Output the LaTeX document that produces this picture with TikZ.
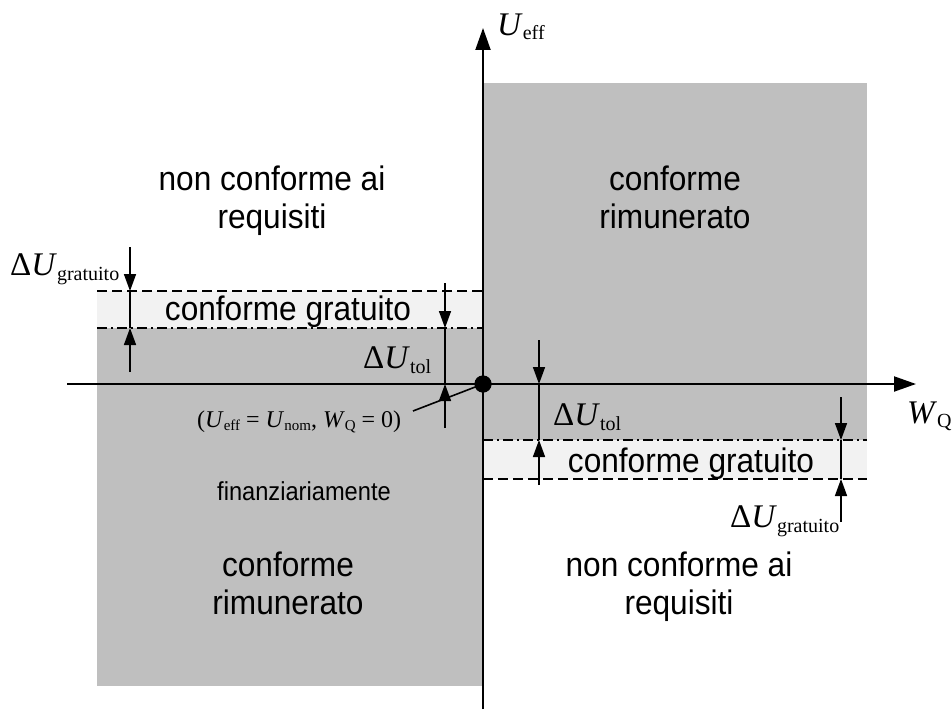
\documentclass[tikz,border=0pt]{standalone}
\usepackage{fontspec}
\usepackage{graphicx}
\setmainfont{Liberation Serif}
\setsansfont{Liberation Sans}
\usetikzlibrary{arrows.meta}
\definecolor{zonegray}{RGB}{191,191,191}
\definecolor{bandgray}{RGB}{242,242,242}
\newcommand\cond[1]{\scalebox{0.93}[1]{#1}}
\newcommand\subx[2]{\raisebox{-#2}{\fontsize{20}{20}\selectfont #1}}
\newcommand\DU[1]{Δ\textit{U}\subx{#1}{5pt}}
\newcommand\sbs[1]{\raisebox{-3.5pt}{\fontsize{15}{15}\selectfont #1}}
\begin{document}
\begin{tikzpicture}[x=1pt,y=-1pt,
  region/.style={font=\fontsize{34}{38}\selectfont\sffamily, align=center, inner sep=0, anchor=base},
  smalltext/.style={font=\fontsize{26}{27}\selectfont\sffamily, inner sep=0, anchor=base},
  mlabel/.style={font=\fontsize{33}{36}\selectfont\rmfamily, anchor=base west, inner sep=0},
  plabel/.style={font=\fontsize{24}{26}\selectfont\rmfamily, anchor=base west, inner sep=0},
  axisline/.style={line width=2pt, -{Triangle[length=22pt,width=15pt]}},
  dimarrow/.style={line width=1.6pt, -{Triangle[length=17pt,width=12pt]}},
  dimline/.style={line width=1.6pt},
  limdash/.style={line width=1.4pt, dash pattern=on 10pt off 5pt},
  limdashdot/.style={line width=1.4pt, dash pattern=on 10pt off 4pt on 2pt off 4pt},
  leader/.style={line width=1.6pt}
]
\useasboundingbox[fill=white] (0,0) rectangle (952,709);

% zones
\fill[zonegray] (483,83) rectangle (867,440);
\fill[bandgray] (483,440) rectangle (867,479);
\fill[zonegray] (97,328) rectangle (483,686);
\fill[bandgray] (97,291) rectangle (483,328);

% limit lines
\coordinate (Lda) at (97,291);  \coordinate (Ldb) at (483,291);
\coordinate (Lta) at (97,328);  \coordinate (Ltb) at (483,328);
\coordinate (Rta) at (483,440); \coordinate (Rtb) at (867,440);
\coordinate (Rda) at (483,479); \coordinate (Rdb) at (867,479);
\draw[limdash] (Lda) -- (Ldb);
\draw[limdashdot] (Lta) -- (Ltb);
\draw[limdashdot] (Rta) -- (Rtb);
\draw[limdash] (Rda) -- (Rdb);

% axes
\coordinate (xs) at (67,384);  \coordinate (xe) at (916,384);
\coordinate (ys) at (483,709); \coordinate (ye) at (483,28);
\draw[axisline] (xs) -- (xe);
\draw[axisline] (ys) -- (ye);

% left Delta U gratuito
\coordinate (g1a) at (130,247); \coordinate (g1b) at (130,291);
\coordinate (g1c) at (130,372); \coordinate (g1d) at (130,328);
\draw[dimarrow] (g1a) -- (g1b);
\draw[dimline] (g1b) -- (g1d);
\draw[dimarrow] (g1c) -- (g1d);

% left Delta U tol
\coordinate (t1a) at (445,283); \coordinate (t1b) at (445,328);
\coordinate (t1c) at (445,428); \coordinate (t1d) at (445,384);
\draw[dimarrow] (t1a) -- (t1b);
\draw[dimline] (t1b) -- (t1d);
\draw[dimarrow] (t1c) -- (t1d);

% right Delta U tol
\coordinate (t2a) at (539,340); \coordinate (t2b) at (539,384);
\coordinate (t2c) at (539,485); \coordinate (t2d) at (539,440);
\draw[dimarrow] (t2a) -- (t2b);
\draw[dimline] (t2b) -- (t2d);
\draw[dimarrow] (t2c) -- (t2d);

% right Delta U gratuito
\coordinate (g2a) at (841,397); \coordinate (g2b) at (841,440);
\coordinate (g2c) at (841,522); \coordinate (g2d) at (841,479);
\draw[dimarrow] (g2a) -- (g2b);
\draw[dimline] (g2b) -- (g2d);
\draw[dimarrow] (g2c) -- (g2d);

% origin point and leader
\node[circle, fill=black, inner sep=0, minimum size=17pt] (origin) at (483,384) {};
\coordinate (leadend) at (413,411);
\draw[leader] (leadend) -- (origin.center);
\fill (origin.center) circle (8.5pt);

% region texts (anchor base = baseline of the last line)
\node[region] (tl) at (272,228) {\cond{non conforme ai}\\\cond{requisiti}};
\node[region] (tr) at (675,228) {\cond{conforme}\\\cond{rimunerato}};
\node[region] (bl) at (288,614) {\cond{conforme}\\\cond{rimunerato}};
\node[region] (br) at (679,614) {\cond{non conforme ai}\\\cond{requisiti}};
\node[region] (cgl) at (288,320) {\cond{conforme gratuito}};
\node[region] (cgr) at (691,472) {\cond{conforme gratuito}};
\node[smalltext] (fin) at (304,500) {\scalebox{0.91}[1]{finanziariamente}};

% math labels
\node[mlabel] (ueff) at (497,36) {\textit{U}\subx{eff}{4pt}};
\node[mlabel] (wq) at (907,423) {\textit{W}\subx{Q}{4pt}};
\node[mlabel] (dugl) at (10,275) {\DU{gratuito}};
\node[mlabel] (dutl) at (363,368) {\DU{tol}};
\node[mlabel] (dutr) at (553,425) {\DU{tol}};
\node[mlabel] (dugr) at (730,527) {\DU{gratuito}};
\node[plabel] (orig) at (197,427) {(\textit{U}\sbs{eff} = \textit{U}\sbs{nom}, \textit{W}\sbs{Q} = 0)};
\end{tikzpicture}
\end{document}
